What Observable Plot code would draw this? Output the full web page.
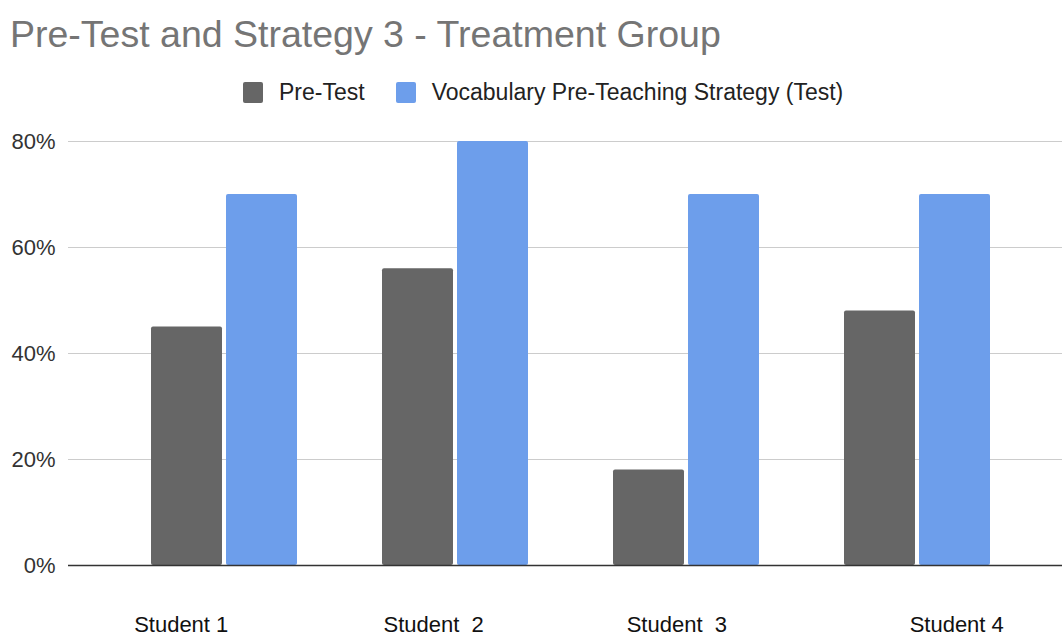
<!DOCTYPE html>
<html>
<head>
<meta charset="utf-8">
<script src="https://cdn.jsdelivr.net/npm/d3@7"></script>
<script src="https://cdn.jsdelivr.net/npm/@observablehq/plot@0.6"></script>
<style>
  html, body { margin: 0; padding: 0; background: #fff; }
  body { width: 1062px; height: 634px; position: relative; overflow: hidden; font-family: "Liberation Sans", Arial, sans-serif; }
  #title { position: absolute; left: 10px; top: 15px; font-size: 37.5px; line-height: 38px; color: #757575; white-space: nowrap; }
  #legend { position: absolute; left: 243px; top: 80px; display: flex; align-items: center; font-size: 23px; line-height: 24px; color: #222; white-space: nowrap; }
  .item { display: flex; align-items: center; margin-right: 31px; }
  .sw { width: 20px; height: 21px; border-radius: 2px; margin-right: 16px; }
  #chart { position: absolute; left: 0; top: 115px; }
  svg text { white-space: pre; }
</style>
</head>
<body>
<div id="title"></div>
<div id="legend"></div>
<div id="chart"></div>
<script>
const chartTitle = "Pre-Test and Strategy 3 - Treatment Group";
const students = ["Student 1              ", "Student  2       ", "Student  3   ", "             Student 4"];
const seriesNames = ["Pre-Test", "Vocabulary Pre-Teaching Strategy (Test)"];
const preTest = [45, 56, 18, 48];
const strategyTest = [70, 80, 70, 70];
const seriesColors = ["#666666", "#6d9eeb"];
const yTicks = [0, 20, 40, 60, 80];

document.getElementById("title").textContent = chartTitle;
const legend = document.getElementById("legend");
seriesNames.forEach((name, i) => {
  const item = document.createElement("div");
  item.className = "item";
  const sw = document.createElement("div");
  sw.className = "sw";
  sw.style.background = seriesColors[i];
  const label = document.createElement("span");
  label.textContent = name;
  item.appendChild(sw);
  item.appendChild(label);
  legend.appendChild(item);
});

const rows = [];
students.forEach((s, i) => {
  rows.push({student: s, series: seriesNames[0], value: preTest[i]});
  rows.push({student: s, series: seriesNames[1], value: strategyTest[i]});
});

const plot = Plot.plot({
  width: 1062,
  height: 519,
  marginTop: 26,
  marginBottom: 69,
  marginLeft: 68,
  marginRight: 0,
  style: {fontFamily: '"Liberation Sans", Arial, sans-serif', fontSize: "22px", background: "white", overflow: "visible"},
  x: {domain: students, range: [108, 1032], padding: 0},
  y: {domain: [0, 80]},
  color: {domain: seriesNames, range: seriesColors},
  marks: [
    Plot.ruleY(yTicks.filter(d => d > 0), {stroke: "#cccccc", strokeWidth: 1}),
    Plot.barY(rows.filter(d => d.series === seriesNames[0]), {x: "student", y: "value", fill: "series", insetLeft: 43, insetRight: 117, rx: 2}),
    Plot.barY(rows.filter(d => d.series === seriesNames[1]), {x: "student", y: "value", fill: "series", insetLeft: 118, insetRight: 42, rx: 2}),
    Plot.ruleY([0], {stroke: "#333333", strokeWidth: 1.5}),
    Plot.axisY({ticks: yTicks, tickSize: 0, tickPadding: 13, tickFormat: d => d + "%", fontSize: 22, fill: "#333", label: null}),
    Plot.axisX({tickSize: 0, tickPadding: 51, fontSize: 22, fill: "#111", label: null})
  ]
});
document.getElementById("chart").appendChild(plot);
</script>
</body>
</html>
